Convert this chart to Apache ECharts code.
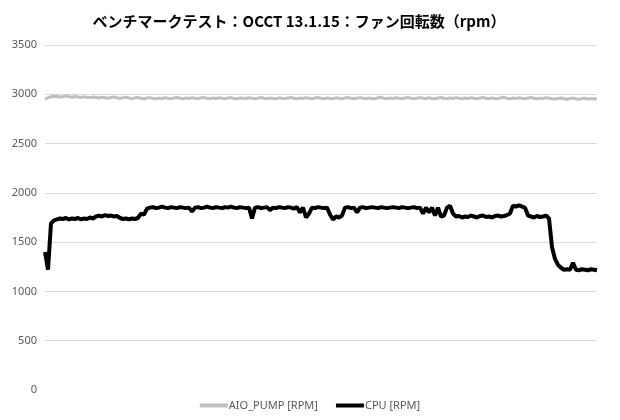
<!DOCTYPE html>
<html><head><meta charset="utf-8">
<script src="https://cdn.jsdelivr.net/npm/echarts@6/dist/echarts.min.js"></script>
<style>html,body{margin:0;padding:0;background:#fff}#c{width:620px;height:420px}</style>
</head><body><div id="c"></div>
<script>
var titleText = 'ベンチマークテスト：OCCT 13.1.15：ファン回転数（rpm）';
var seriesNames = ['AIO_PUMP [RPM]', 'CPU [RPM]'];
var yTicks = [0, 500, 1000, 1500, 2000, 2500, 3000, 3500];

var cpu = [
1400,1220,1690,1720,1730,1740,1735,1745,1730,1740,
1735,1745,1730,1740,1735,1750,1740,1760,1770,1760,
1775,1765,1770,1760,1765,1745,1735,1740,1730,1740,
1735,1745,1790,1780,1840,1850,1855,1845,1850,1860,
1850,1845,1855,1850,1845,1855,1850,1845,1850,1810,
1850,1855,1845,1850,1860,1850,1845,1855,1850,1845,
1855,1850,1860,1850,1845,1855,1850,1845,1850,1740,
1850,1855,1845,1850,1855,1825,1850,1845,1855,1850,
1845,1855,1850,1840,1855,1800,1850,1750,1790,1850,
1845,1855,1850,1845,1850,1780,1730,1760,1750,1770,
1850,1855,1845,1850,1800,1850,1855,1845,1850,1855,
1850,1845,1855,1850,1845,1850,1855,1850,1845,1855,
1850,1845,1850,1855,1845,1850,1790,1850,1800,1850,
1770,1850,1760,1770,1850,1870,1790,1760,1765,1750,
1760,1755,1770,1760,1750,1765,1770,1755,1760,1750,
1765,1770,1760,1765,1775,1790,1870,1860,1875,1860,
1850,1770,1760,1750,1765,1755,1760,1770,1740,1450,
1330,1270,1240,1220,1225,1220,1290,1220,1215,1225,
1220,1215,1225,1220,1215
];

var pump = [
2950,2965,2975,2980,2978,2972,2975,2982,2976,2970,
2978,2972,2968,2975,2970,2966,2972,2968,2962,2970,
2965,2960,2968,2972,2964,2958,2966,2970,2962,2956,
2964,2968,2960,2955,2962,2966,2958,2954,2962,2958,
2965,2960,2956,2963,2968,2960,2955,2962,2958,2966,
2960,2956,2964,2968,2959,2955,2962,2957,2965,2960,
2954,2962,2966,2958,2955,2963,2960,2957,2965,2959,
2954,2961,2967,2960,2956,2963,2958,2955,2964,2960,
2957,2963,2968,2959,2955,2962,2958,2965,2960,2954,
2962,2967,2960,2955,2963,2958,2956,2964,2960,2955,
2962,2967,2959,2954,2961,2966,2960,2956,2963,2958,
2955,2964,2969,2960,2956,2962,2958,2965,2960,2955,
2963,2967,2959,2954,2961,2966,2960,2957,2964,2958,
2955,2962,2968,2960,2956,2963,2958,2966,2961,2955,
2962,2957,2965,2960,2954,2961,2967,2960,2955,2963,
2958,2956,2964,2969,2960,2955,2962,2958,2965,2960,
2955,2963,2968,2959,2954,2961,2957,2964,2960,2955,
2952,2958,2962,2955,2950,2957,2961,2954,2950,2956,
2960,2953,2957,2955,2952
];

var cats = cpu.map(function(_, i){ return i; });

var chart = echarts.init(document.getElementById('c'), null, {renderer:'canvas'});
chart.setOption({
  animation: false,
  backgroundColor: '#fff',
  title: {
    text: titleText, left: 294, top: 9, textAlign: 'center',
    textStyle: {fontFamily: '"Noto Sans CJK JP"', fontWeight: 'bold', fontSize: 15, color: '#000'}
  },
  legend: {
    bottom: 4, left: 'center', itemGap: 18, itemWidth: 28, itemHeight: 4,
    icon: 'rect',
    textStyle: {fontFamily: '"Noto Sans", sans-serif', fontSize: 11, color: '#595959', padding:[0,0,0,-4]},
    data: seriesNames
  },
  grid: {left: 45, right: 23, top: 45, bottom: 30, containLabel: false},
  xAxis: {
    type: 'category', data: cats, boundaryGap: false,
    axisLine: {show: false}, axisTick: {show: false}, axisLabel: {show: false}, splitLine: {show: false}
  },
  yAxis: {
    type: 'value', min: yTicks[0], max: yTicks[yTicks.length-1], interval: 500,
    axisLine: {show: false}, axisTick: {show: false},
    axisLabel: {fontFamily: '"Noto Sans", sans-serif', fontSize: 11, color: '#595959', margin: 8,
      formatter: function(v){ return String(v); }},
    splitLine: {lineStyle: {color: ['#ffffff','#d9d9d9','#d9d9d9','#d9d9d9','#d9d9d9','#d9d9d9','#d9d9d9','#d9d9d9'], width: 1}}
  },
  series: [
    {name: seriesNames[0], type: 'line', data: pump, showSymbol: false, symbol: 'none',
     lineStyle: {color: '#bfbfbf', width: 3}, itemStyle: {color: '#bfbfbf'}},
    {name: seriesNames[1], type: 'line', data: cpu, showSymbol: false, symbol: 'none',
     lineStyle: {color: '#000000', width: 4}, itemStyle: {color: '#000000'}}
  ]
});
</script>
</body></html>
